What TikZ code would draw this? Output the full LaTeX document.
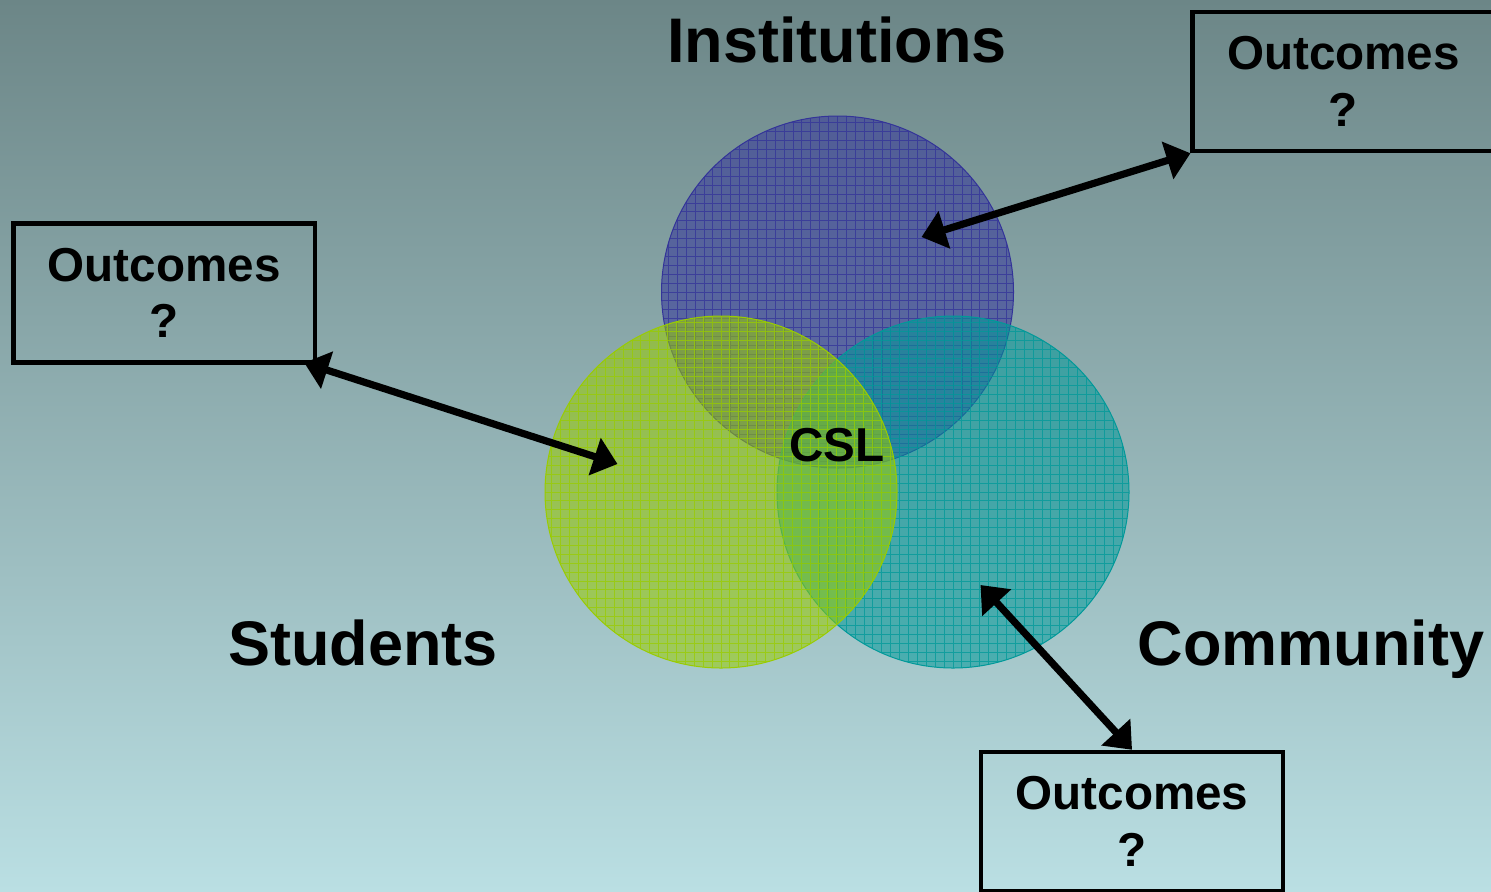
\documentclass[tikz,border=0pt]{standalone}
\usepackage{fontspec}
\setmainfont{Liberation Sans}
\usetikzlibrary{arrows.meta,calc}
\definecolor{bgtop}{RGB}{108,134,135}
\definecolor{bgbot}{RGB}{186,223,227}
\definecolor{cblue}{RGB}{51,51,153}
\definecolor{cteal}{RGB}{0,153,153}
\definecolor{cgreen}{RGB}{153,204,0}
\tikzset{
  venn/.style={circle, inner sep=0pt, minimum size=176pt, draw=#1, line width=0.5pt,
    fill=#1, fill opacity=0.55,
    path picture={\draw[#1, draw opacity=0.75, line width=0.45pt, step=4.45pt]
      (path picture bounding box.south west) grid (path picture bounding box.north east);}},
  biglabel/.style={inner sep=0pt, anchor=base, font=\fontsize{31.5}{38}\selectfont\bfseries},
  outbox/.style={draw=black, line width=2.25pt, inner sep=0pt, minimum width=150.8pt,
    minimum height=69.5pt, align=center, font=\fontsize{23.8}{28.3}\selectfont\bfseries},
  dblarrow/.style={line width=3.6pt, {Triangle[length=12pt,width=19pt]}-{Triangle[length=12pt,width=19pt]}}
}
\begin{document}
\begin{tikzpicture}[x=0.5pt,y=-0.5pt]
\useasboundingbox (0,0) rectangle (1491,891);
\clip (0,0) rectangle (1491,891);
\shade[top color=bgtop, bottom color=bgbot] (0,0) rectangle (1491,891);

% circles
\node[venn=cblue] (inst) at (837.5,292) {};
\node[venn=cteal] (comm) at (953,492) {};
\node[venn=cgreen] (stud) at (721,492) {};

% labels
\node[biglabel] (tinst) at (837,62) {Institutions};
\node[biglabel] (tstud) at (363,665) {Students};
\node[biglabel] (tcomm) at (1311,665) {Community};
\node[inner sep=0pt, anchor=base, font=\fontsize{23.8}{28}\selectfont\bfseries] (csl) at (837,461) {CSL};

% outcome boxes
\node[outbox] (otr) at (1343.5,81.5) {Outcomes\\?};
\node[outbox] (ol) at (164.2,293) {Outcomes\\?};
\node[outbox] (ob) at (1132,821.5) {Outcomes\\?};

% arrow ends in circles
\coordinate (pinst) at (921.5,237);
\coordinate (pstud) at (617.5,464);
\coordinate (pcomm) at (980.5,585);
\coordinate (pl) at ([xshift=-6.5pt,yshift=1pt]ol.south east);

\draw[dblarrow] (otr.south west) -- (pinst);
\draw[dblarrow] (pl) -- (pstud);
\draw[dblarrow] (ob.north) -- (pcomm);
\end{tikzpicture}
\end{document}
